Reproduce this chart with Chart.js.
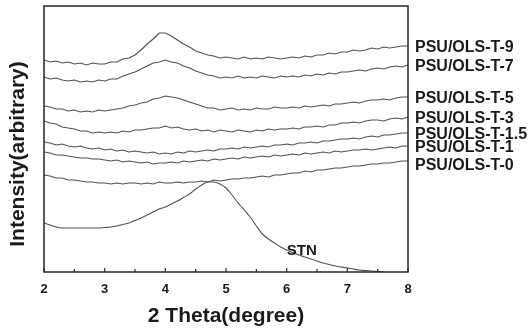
<!DOCTYPE html>
<html>
<head>
<meta charset="utf-8">
<script src="https://cdn.jsdelivr.net/npm/chart.js@4.4.1/dist/chart.umd.min.js"></script>
<style>
  html, body { margin: 0; padding: 0; background: #fff; }
  #wrap { width: 530px; height: 331px; }
</style>
</head>
<body>
<div id="wrap"><canvas id="xrd" width="530" height="331"></canvas></div>
<script>
// 2 theta positions (degree)
const theta = [2.0, 2.1, 2.2, 2.3, 2.4, 2.5, 2.6, 2.7, 2.8, 2.9,
  3.0, 3.1, 3.2, 3.3, 3.4, 3.5, 3.6, 3.7, 3.8, 3.9,
  4.0, 4.1, 4.2, 4.3, 4.4, 4.5, 4.6, 4.7, 4.8, 4.9,
  5.0, 5.1, 5.2, 5.3, 5.4, 5.5, 5.6, 5.7, 5.8, 5.9,
  6.0, 6.1, 6.2, 6.3, 6.4, 6.5, 6.6, 6.7, 6.8, 6.9,
  7.0, 7.1, 7.2, 7.3, 7.4, 7.5, 7.6, 7.7, 7.8, 7.9, 8.0];

// intensities (arbitrary, curves are stacked)
const t9 = [212, 210, 211, 209, 210, 208, 209, 207, 209, 208,
  208, 210, 210, 213, 214, 217, 222, 228, 233, 239,
  239, 236, 232, 228, 225, 221, 219, 217, 216, 214,
  215, 214, 213, 215, 213, 214, 213, 215, 214, 213,
  214, 215, 214, 216, 215, 217, 217, 219, 218, 220,
  220, 222, 221, 222, 224, 223, 225, 224, 225, 226, 226];
const t7 = [195, 193, 194, 192, 191, 192, 190, 191, 190, 192,
  191, 193, 193, 196, 198, 200, 203, 206, 209, 210,
  212, 210, 209, 206, 204, 201, 199, 197, 196, 194,
  195, 194, 196, 194, 195, 194, 196, 195, 194, 196,
  195, 196, 195, 197, 196, 198, 197, 199, 198, 200,
  200, 201, 202, 201, 203, 204, 203, 205, 206, 205, 207];
const t5 = [166, 165, 163, 163, 161, 162, 160, 161, 160, 162,
  161, 162, 163, 164, 166, 167, 169, 170, 173, 174,
  176, 175, 174, 172, 170, 168, 166, 164, 164, 162,
  163, 164, 162, 163, 162, 164, 163, 163, 165, 164,
  164, 165, 164, 166, 165, 166, 167, 166, 168, 168,
  169, 170, 169, 171, 172, 172, 173, 172, 174, 175, 175];
const t3 = [151, 149, 148, 145, 144, 143, 141, 141, 139, 140,
  139, 140, 139, 141, 140, 142, 142, 143, 144, 144,
  146, 144, 145, 143, 142, 143, 141, 142, 140, 142,
  141, 140, 142, 141, 140, 142, 141, 143, 142, 143,
  143, 144, 143, 145, 145, 146, 145, 147, 147, 149,
  149, 150, 149, 151, 152, 152, 151, 153, 154, 153, 155];
const t15 = [130, 129, 127, 128, 126, 125, 126, 124, 123, 124,
  122, 123, 121, 122, 120, 121, 120, 119, 120, 118,
  119, 118, 120, 119, 121, 120, 121, 122, 121, 123,
  123, 124, 123, 125, 124, 125, 126, 125, 127, 127,
  128, 127, 129, 129, 130, 129, 131, 131, 132, 133,
  133, 134, 133, 135, 136, 135, 137, 137, 138, 139, 139];
const t1 = [120, 119, 117, 117, 116, 115, 114, 114, 113, 113,
  112, 111, 112, 110, 111, 110, 109, 110, 108, 109,
  109, 110, 109, 111, 110, 111, 112, 111, 113, 112,
  113, 114, 113, 115, 114, 115, 116, 115, 117, 116,
  117, 118, 117, 119, 118, 119, 120, 119, 121, 120,
  121, 122, 122, 123, 122, 123, 124, 125, 124, 126, 126];
const t0 = [97, 96, 94, 94, 92, 92, 91, 90, 90, 89,
  89, 88, 89, 88, 89, 89, 88, 89, 88, 90,
  89, 89, 90, 89, 90, 90, 91, 90, 92, 91,
  92, 93, 93, 94, 94, 95, 96, 95, 97, 97,
  98, 99, 99, 101, 100, 102, 102, 103, 104, 104,
  105, 106, 106, 107, 108, 108, 109, 109, 110, 111, 111];
// STN reaches the baseline at about 7.6 degree
const stn = [49, 47, 45, 44, 44, 44, 44, 44, 44, 44,
  44.5, 45, 46, 47.5, 49, 51.5, 54, 57, 60, 63,
  65, 68, 71, 74.5, 78, 83, 87, 90, 90, 88,
  84, 77, 69, 62, 55, 46, 38, 33, 29, 25,
  22, 19.5, 17, 15, 13, 11, 9, 7.5, 6, 5,
  4, 3, 2, 1.5, 1, 0.5, 0];

const sampleNames = ['PSU/OLS-T-9', 'PSU/OLS-T-7', 'PSU/OLS-T-5', 'PSU/OLS-T-3',
  'PSU/OLS-T-1.5', 'PSU/OLS-T-1', 'PSU/OLS-T-0'];
const sampleSeries = [t9, t7, t5, t3, t15, t1, t0];
const xTickMarks = [2, 2.5, 3, 3.5, 4, 4.5, 5, 5.5, 6, 6.5, 7, 7.5, 8];
const stnLabel = { text: 'STN', x: 6.25, y: 21 };

const FONT = '"Liberation Sans", Arial, Helvetica, sans-serif';

const toPoints = vals => vals.map((v, i) => ({ x: theta[i], y: v }));

const datasets = sampleSeries.map((vals, i) => ({
  label: sampleNames[i],
  data: toPoints(vals),
  borderColor: '#505050',
  borderWidth: 1.1,
  pointRadius: 0,
  tension: 0,
}));
datasets.push({
  label: 'STN',
  data: toPoints(stn),
  borderColor: '#505050',
  borderWidth: 1.1,
  pointRadius: 0,
  cubicInterpolationMode: 'monotone',
});

// frame, inward ticks and all the free text
const decorations = {
  id: 'decorations',
  afterDraw(chart) {
    const { ctx, chartArea: a } = chart;
    const xs = chart.scales.x, ys = chart.scales.y;
    ctx.save();

    ctx.strokeStyle = '#262626';
    ctx.lineWidth = 1.5;
    ctx.strokeRect(a.left, a.top, a.right - a.left, a.bottom - a.top);

    ctx.lineWidth = 1.2;
    xTickMarks.forEach(v => {
      const px = xs.getPixelForValue(v);
      const len = Number.isInteger(v) ? 4 : 3;
      ctx.beginPath();
      ctx.moveTo(px, a.bottom);
      ctx.lineTo(px, a.bottom - len);
      ctx.stroke();
    });

    ctx.fillStyle = '#1a1a1a';
    ctx.textBaseline = 'middle';

    // sample names next to the curve ends
    ctx.font = 'bold 16px ' + FONT;
    ctx.textAlign = 'left';
    sampleSeries.forEach((vals, i) => {
      let py = ys.getPixelForValue(vals[vals.length - 1]) + 2;
      if (i === sampleSeries.length - 1) py += 3;
      ctx.fillText(sampleNames[i], a.right + 7, py);
    });

    ctx.font = 'bold 15px ' + FONT;
    ctx.textAlign = 'center';
    ctx.fillText(stnLabel.text, xs.getPixelForValue(stnLabel.x), ys.getPixelForValue(stnLabel.y));

    // y axis title
    ctx.font = 'bold 21px ' + FONT;
    ctx.translate(18, 154);
    ctx.rotate(-Math.PI / 2);
    ctx.fillText('Intensity(arbitrary)', 0, 0);

    ctx.restore();
  }
};

new Chart(document.getElementById('xrd'), {
  type: 'line',
  data: { datasets },
  options: {
    responsive: false,
    animation: false,
    layout: { padding: { top: 6, right: 122, left: 0, bottom: 0 } },
    plugins: { legend: { display: false }, tooltip: { enabled: false } },
    scales: {
      x: {
        type: 'linear',
        min: 2,
        max: 8,
        afterFit: s => { s.height = 59; },
        grid: { display: false, drawTicks: false },
        border: { display: false },
        ticks: {
          stepSize: 1,
          padding: 10,
          color: '#1a1a1a',
          font: { family: FONT, size: 13, weight: 'bold' },
        },
        title: {
          display: true,
          text: '2 Theta(degree)',
          color: '#1a1a1a',
          padding: { top: 0, bottom: 2 },
          font: { family: FONT, size: 21, weight: 'bold' },
        },
      },
      y: {
        min: 0,
        max: 266,
        afterFit: s => { s.width = 44; },
        grid: { display: false },
        border: { display: false },
        ticks: { display: false },
      },
    },
  },
  plugins: [decorations],
});
</script>
</body>
</html>
